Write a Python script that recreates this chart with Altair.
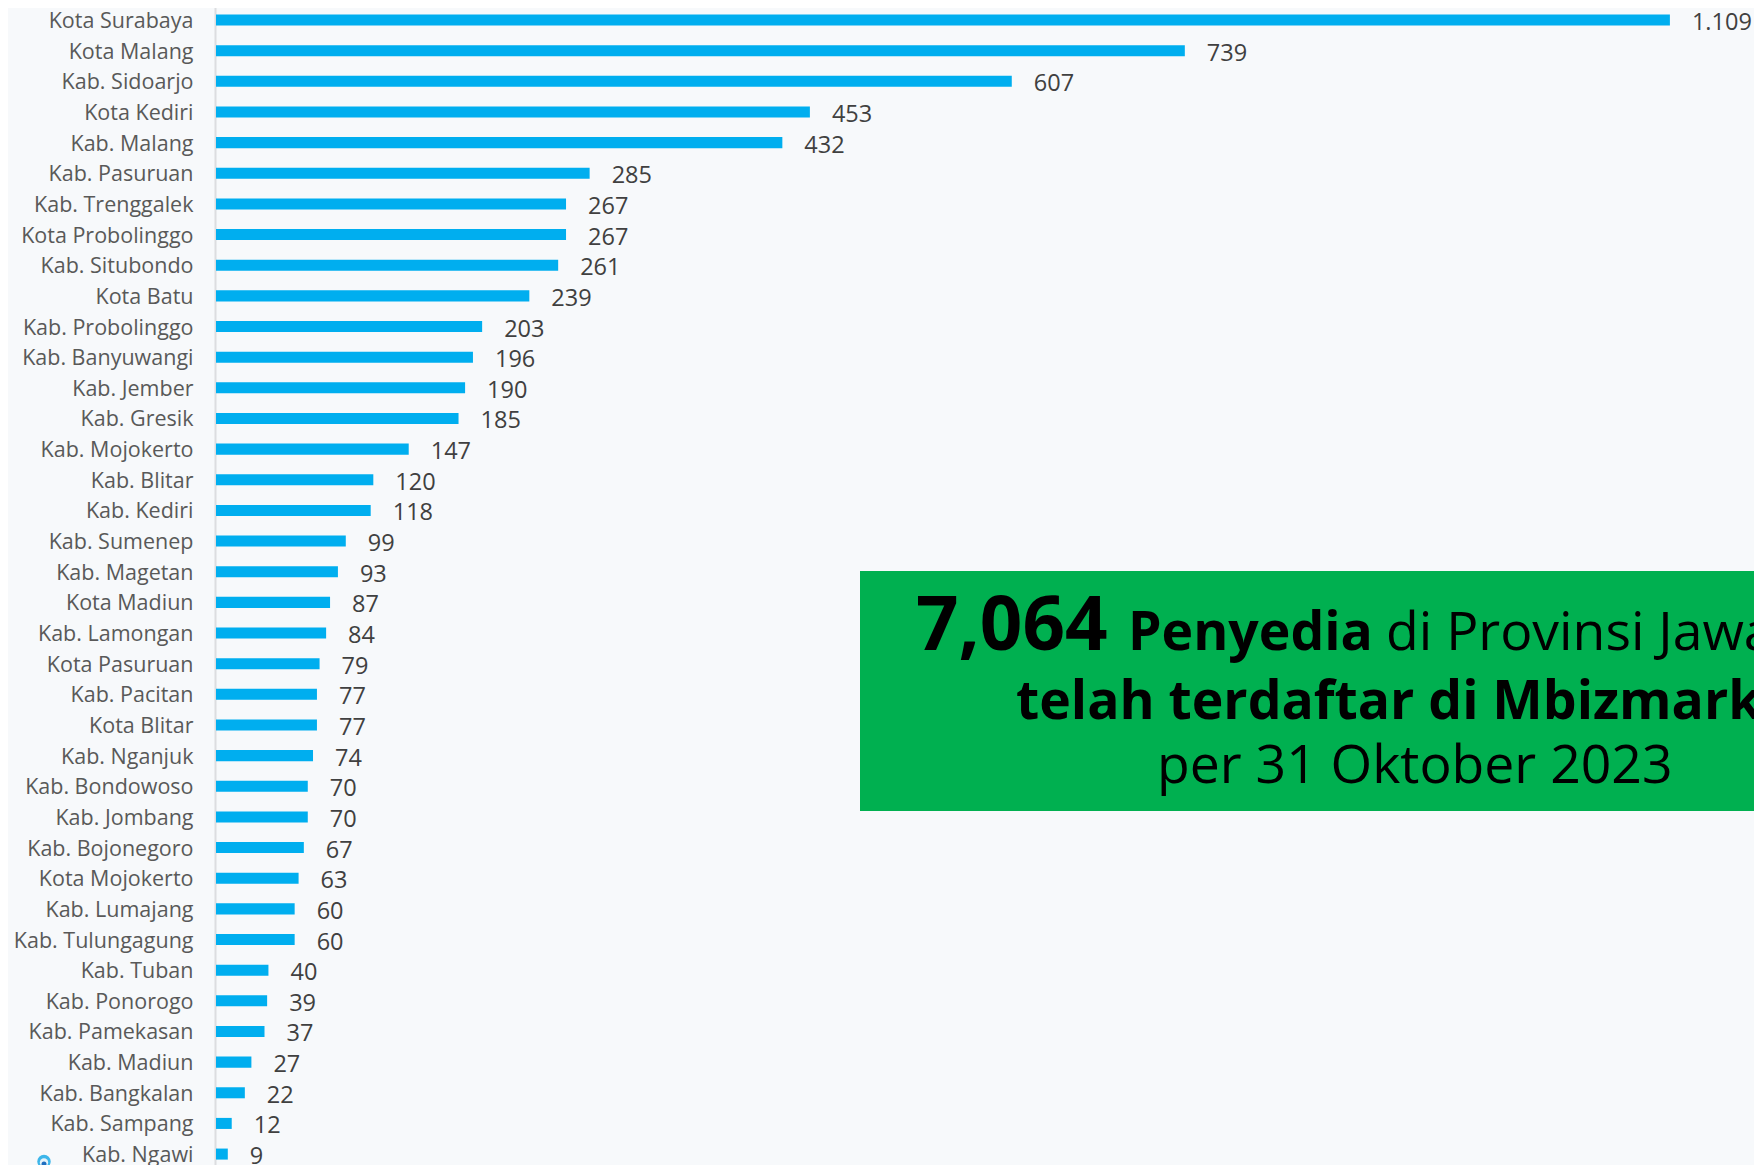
import altair as alt
import pandas as pd

categories = ["Kota Surabaya","Kota Malang","Kab. Sidoarjo","Kota Kediri","Kab. Malang","Kab. Pasuruan",
"Kab. Trenggalek","Kota Probolinggo","Kab. Situbondo","Kota Batu","Kab. Probolinggo","Kab. Banyuwangi",
"Kab. Jember","Kab. Gresik","Kab. Mojokerto","Kab. Blitar","Kab. Kediri","Kab. Sumenep","Kab. Magetan",
"Kota Madiun","Kab. Lamongan","Kota Pasuruan","Kab. Pacitan","Kota Blitar","Kab. Nganjuk","Kab. Bondowoso",
"Kab. Jombang","Kab. Bojonegoro","Kota Mojokerto","Kab. Lumajang","Kab. Tulungagung","Kab. Tuban",
"Kab. Ponorogo","Kab. Pamekasan","Kab. Madiun","Kab. Bangkalan","Kab. Sampang","Kab. Ngawi"]
values = [1109,739,607,453,432,285,267,267,261,239,203,196,190,185,147,120,118,99,93,87,84,79,77,77,74,70,70,67,63,60,60,40,39,37,27,22,12,9]
value_labels = [f"{v:,}".replace(",", ".") for v in values]

FONT = "Open Sans"
BG = "#f7f9fb"
OX, OY = 216, 8  # page position of the plot origin
W, H = 1538, 1157

df = pd.DataFrame({"cat": categories, "val": values, "label": value_labels})

x = alt.X("val:Q", axis=None, scale=alt.Scale(domain=[0, W / 1.311], nice=False, zero=True))
y = alt.Y("cat:N", sort=categories, title=None,
          scale=alt.Scale(range=[-3.3, 1161.4], paddingInner=0.64, paddingOuter=0.32),
          axis=alt.Axis(domainColor="#dcdde0", domainWidth=2, ticks=False, labelPadding=22, offset=1, labelOffset=2,
                        labelFont=FONT, labelFontSize=21.5, labelColor="#595959", labelLimit=300, grid=False))

bars = alt.Chart(df).mark_bar(color="#00aeef").encode(x=x, y=y)
nums = alt.Chart(df).mark_text(align="left", baseline="middle", dx=22, dy=3, font=FONT, fontSize=23.5,
                               color="#404040").encode(x=x, y=y, text="label:N")

box = alt.Chart(pd.DataFrame({"k": ["box"]})).mark_rect(color="#00b050").encode(
    x=alt.value(860 - OX), x2=alt.value(W + 5), y=alt.value(571 - OY), y2=alt.value(811 - OY))

def line(text, px, base, size, weight):
    return alt.Chart(pd.DataFrame({"t": [text]})).mark_text(
        align="left", baseline="alphabetic", font=FONT, fontSize=size, fontWeight=weight, color="#000000"
    ).encode(x=alt.value(px - OX), y=alt.value(base - OY), text="t:N")

texts = [
    line("7,064", 916, 650, 74.5, "bold"),
    line("Penyedia", 1128, 650, 53.5, "bold"),
    line("di Provinsi Jawa Timur", 1386, 650, 53.5, "normal"),
    line("telah terdaftar di Mbizmarket", 1016, 719, 53.5, "bold"),
    line("per 31 Oktober 2023", 1157, 783, 53.5, "normal"),
]

def dot(colour, size, py):
    return alt.Chart(pd.DataFrame({"k": ["icon"]})).mark_point(
        filled=True, color=colour, opacity=1, size=size
    ).encode(x=alt.value(44 - OX), y=alt.value(py - OY))

icon = [dot("#3db6ea", 180, 1161.5), dot("#e6f3fa", 70, 1162.5), dot("#1f6fc0", 25, 1164)]

chart = alt.layer(bars, nums, box, *texts, *icon).properties(
    width=W, height=H, background=BG,
    autosize=alt.AutoSizeParams(type="none"),
    padding={"left": OX - 8, "top": 0, "right": 0, "bottom": 0},
).configure_view(stroke=None)

chart.save("out.html", embed_options={"renderer": "svg", "actions": False})
